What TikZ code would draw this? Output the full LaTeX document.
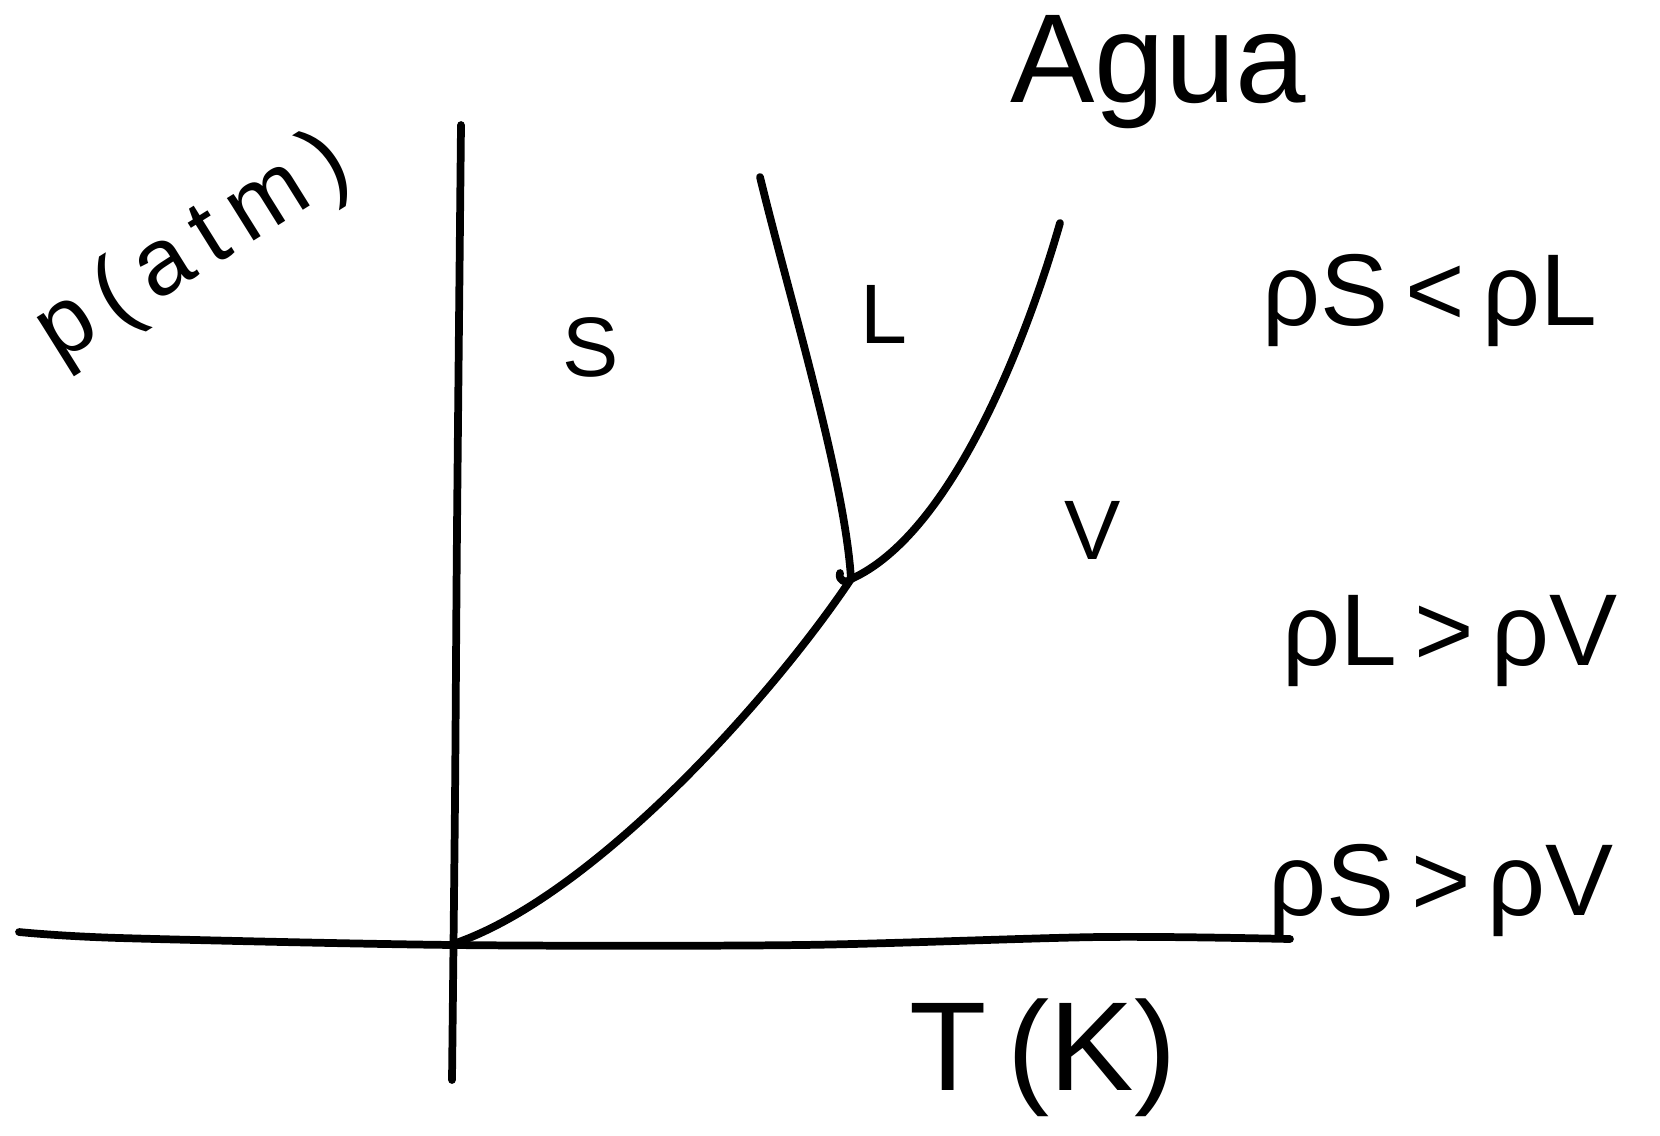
\documentclass[tikz,border=0pt]{standalone}
\usepackage{fontspec}
\setmainfont{Liberation Sans}
\usetikzlibrary{positioning}

\begin{document}
\begin{tikzpicture}[x=0.01cm, y=-0.01cm,
    hand/.style={line width=2.2pt, line cap=round, line join=round},
    phase/.style={font=\fontsize{24}{28}\selectfont},
    rel/.style={font=\fontsize{29}{33}\selectfont, anchor=base},
    axlabel/.style={font=\fontsize{36}{40}\selectfont}
]
    \useasboundingbox (0,0) rectangle (1660,1135);

    % axes
    \draw[hand] plot[smooth] coordinates {(19,932) (120,938) (455,945) (800,945) (1100,937) (1290,939)};
    \draw[hand] plot[smooth] coordinates {(461,125) (457,529) (455,800) (452,1080)};

    % phase boundaries
    \coordinate (orig) at (450,945);
    \coordinate (tp) at (851,579);
    \coordinate (vtop) at (1060,223);
    \coordinate (ftop) at (760,177);
    \draw[hand] (orig) .. controls (590,900) and (770,700) .. (tp);
    \draw[hand] (tp) .. controls (950,535) and (1025,345) .. (vtop);
    \draw[hand] (ftop) .. controls (790,300) and (845,480) .. (tp);
    \draw[hand] (tp) .. controls (846,584) and (838,581) .. (840,573);

    % labels
    \node[axlabel] (agua) at (1158,72) {Agua};
    \node[axlabel] (temp) at (1043,1058) {T\,(K)};
    \node[font=\fontsize{27}{31}\selectfont\addfontfeature{LetterSpace=16}, rotate=32] (pres) at (194,250) {p(atm)};

    \node[phase] (sol) at (591,347) {S};
    \node[phase] (liq) at (884,314) {L};
    \node[phase] (vap) at (1093,530) {V};

    \node[rel] (r1) at (1430,325) {ρS\,<\,ρL};
    \node[rel] (r2) at (1450,665) {ρL\,>\,ρV};
    \node[rel] (r3) at (1441,915) {ρS\,>\,ρV};
\end{tikzpicture}
\end{document}
